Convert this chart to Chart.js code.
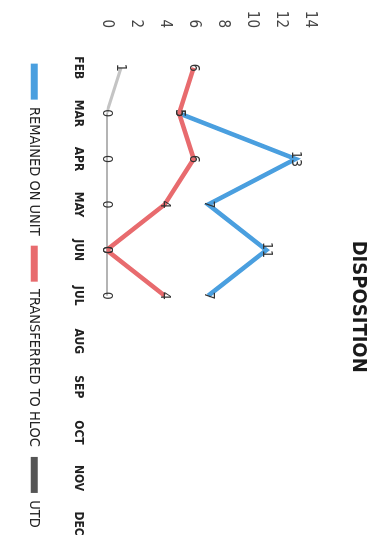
<!DOCTYPE html>
<html>
<head>
<meta charset="utf-8">
<script src="https://cdn.jsdelivr.net/npm/chart.js@4"></script>
<style>
html,body{margin:0;padding:0;background:#fff;overflow:hidden;}
#wrap{position:absolute;left:0;top:0;width:557px;height:380px;transform-origin:0 0;transform:translate(380px,0) rotate(90deg);background:#fff;}
</style>
</head>
<body>
<div id="wrap"><canvas id="c" width="557" height="380"></canvas></div>
<script>
const months = ['FEB','MAR','APR','MAY','JUN','JUL','AUG','SEP','OCT','NOV','DEC'];
const remainedOnUnit = [null,5,13,7,11,7,null,null,null,null,null];
const transferredToHloc = [6,5,6,4,0,4,null,null,null,null,null];
const utd = [1,0,0,0,0,0,null,null,null,null,null];
const yTicks = [0,2,4,6,8,10,12,14];
const chartTitle = 'DISPOSITION';

const NARROW = '"Liberation Sans Narrow","DejaVu Sans Condensed","Liberation Sans",sans-serif';

const valueLabels = {
  id: 'valueLabels',
  afterDatasetsDraw(chart) {
    const ctx = chart.ctx;
    ctx.save();
    ctx.font = '14px ' + NARROW;
    ctx.fillStyle = '#333';
    ctx.textAlign = 'center';
    ctx.textBaseline = 'middle';
    chart.data.datasets.forEach((ds, i) => {
      const meta = chart.getDatasetMeta(i);
      meta.data.forEach((pt, j) => {
        const v = ds.data[j];
        if (v === null || v === undefined) return;
        ctx.fillText(String(v), pt.x, pt.y);
      });
    });
    ctx.restore();
  }
};

const titlePlugin = {
  id: 'offsetTitle',
  afterDraw(chart) {
    const ctx = chart.ctx, a = chart.chartArea;
    ctx.save();
    ctx.font = 'bold 20px ' + NARROW;
    ctx.fillStyle = '#1a1a1a';
    ctx.textAlign = 'center';
    ctx.textBaseline = 'middle';
    ctx.fillText(chartTitle, (a.left + a.right) / 2 + 11, 22);
    ctx.restore();
  }
};

new Chart(document.getElementById('c'), {
  type: 'line',
  data: {
    labels: months,
    datasets: [
      {label: 'REMAINED ON UNIT', data: remainedOnUnit, borderColor: '#4a9fdf', backgroundColor: '#4a9fdf', borderWidth: 4.5, pointRadius: 0, order: 2},
      {label: 'TRANSFERRED TO HLOC', data: transferredToHloc, borderColor: '#e86b6e', backgroundColor: '#e86b6e', borderWidth: 4.5, pointRadius: 0, order: 1},
      {label: 'UTD', data: utd, borderColor: '#6a6a6a', backgroundColor: '#555555', borderWidth: 2, pointRadius: 0, order: 3,
        segment: {borderColor: c => c.p0DataIndex === 0 ? '#c4c4c4' : '#6a6a6a', borderWidth: c => c.p0DataIndex === 0 ? 3 : 2}}
    ]
  },
  options: {
    responsive: false,
    animation: false,
    devicePixelRatio: 1,
    layout: {padding: {left: 0, right: 6, top: 70, bottom: 17}},
    plugins: {
      title: {display: false},
      legend: {position: 'bottom', fullSize: false,
        labels: {boxWidth: 36, boxHeight: 7, color: '#222', padding: 10,
          font: {family: NARROW, size: 14.5},
          sort: (a, b) => a.datasetIndex - b.datasetIndex,
          generateLabels: chart => chart.data.datasets.map((ds, i) => ({
            text: ds.label, fillStyle: ds.backgroundColor, strokeStyle: ds.backgroundColor,
            lineWidth: 0, hidden: false, datasetIndex: i, fontColor: '#222'
          }))}},
      tooltip: {enabled: false}
    },
    scales: {
      x: {
        offset: true,
        grid: {display: false, drawTicks: false},
        border: {display: false},
        ticks: {color: '#222', padding: 21, font: {family: NARROW, size: 12, weight: 'bold'}, maxRotation: 0, autoSkip: false},
        afterFit: s => { s.height = 55; }
      },
      y: {
        min: 0, max: 14,
        grid: {display: false, drawTicks: false},
        border: {display: false},
        afterBuildTicks: s => { s.ticks = yTicks.map(v => ({value: v})); },
        ticks: {color: '#444', padding: 17, font: {family: NARROW, size: 15}},
        afterFit: s => { s.width = 45; }
      }
    }
  },
  plugins: [valueLabels, titlePlugin]
});
</script>
</body>
</html>
